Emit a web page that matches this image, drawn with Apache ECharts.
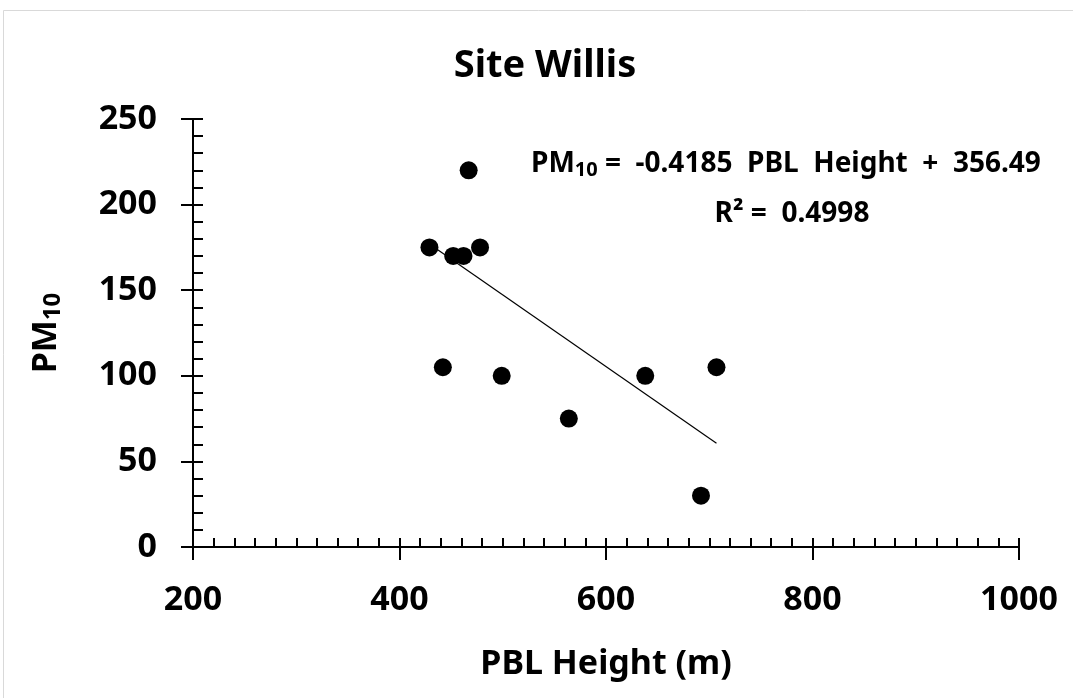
<!DOCTYPE html>
<html>
<head>
<meta charset="utf-8">
<script src="https://cdn.jsdelivr.net/npm/echarts@6/dist/echarts.min.js"></script>
<style>
  html, body { margin: 0; padding: 0; background: #fff; }
  #chart { width: 1073px; height: 698px; }
</style>
</head>
<body>
<div id="chart"></div>
<script>
// PBL height (m) and PM10
const pblHeight = [467, 429, 452, 462, 478, 442, 499, 564, 638, 707, 692];
const pm10 = [220, 175, 170, 170, 175, 105, 100, 75, 100, 105, 30];

// trendline from the fitted equation
const slope = -0.4185;
const intercept = 356.49;
const rSquared = 0.4998;

const xRange = [200, 1000];
const yRange = [0, 250];

const font = 'Noto Sans';

const points = pblHeight.map((x, i) => [x, pm10[i]]);
const xMin = Math.min(...pblHeight);
const xMax = Math.max(...pblHeight);
const trend = [[xMin, slope * xMin + intercept], [xMax, slope * xMax + intercept]];

const chart = echarts.init(document.getElementById('chart'), null, { renderer: 'canvas' });

const tickLine = { color: '#000', width: 2 };
const bold = (size) => ({ fontFamily: font, fontSize: size, fontWeight: 'bold', color: '#000' });

const option = {
  animation: false,
  backgroundColor: '#fff',
  textStyle: { fontFamily: font, color: '#000' },
  title: {
    text: 'Site Willis',
    left: 540,
    textAlign: 'center',
    top: 42,
    textStyle: bold(38)
  },
  graphic: [
    {
      type: 'rect',
      shape: { x: 3.5, y: 10.5, width: 1080, height: 700 },
      style: { fill: 'none', stroke: '#d9d9d9', lineWidth: 1 },
      z: -1
    },
    {
      type: 'text',
      x: 531,
      y: 164,
      style: {
        text: '{b|PM}{s|10}{b| =  -0.4185  PBL  Height  +  356.49}',
        verticalAlign: 'middle',
        rich: {
          b: { fontFamily: font, fontSize: 28, fontWeight: 'bold', fill: '#000' },
          s: { fontFamily: font, fontSize: 20, fontWeight: 'bold', fill: '#000', verticalAlign: 'bottom', padding: [12, 0, 0, 0] }
        }
      }
    },
    {
      type: 'text',
      x: 792,
      y: 214,
      style: {
        text: 'R² =  ' + rSquared.toFixed(4),
        align: 'center',
        verticalAlign: 'middle',
        fontFamily: font, fontSize: 28, fontWeight: 'bold', fill: '#000'
      }
    }
  ],
  grid: { left: 193, top: 119, width: 826, height: 428 },
  xAxis: [
    {
      type: 'value',
      min: xRange[0], max: xRange[1], interval: 200,
      name: 'PBL Height (m)',
      nameLocation: 'middle',
      nameGap: 100,
      nameTextStyle: bold(34),
      axisLine: { lineStyle: tickLine },
      axisTick: { inside: true, length: 9, lineStyle: tickLine },
      minorTick: { show: true, splitNumber: 10, length: 9, lineStyle: tickLine },
      axisLabel: Object.assign(bold(34), { margin: 36, formatter: (v) => String(v) }),
      splitLine: { show: false }
    },
    {
      type: 'value',
      position: 'bottom',
      min: xRange[0], max: xRange[1], interval: 200,
      axisLine: { show: false },
      axisTick: { inside: false, length: 13, lineStyle: tickLine },
      axisLabel: { show: false },
      splitLine: { show: false }
    }
  ],
  yAxis: [
    {
      type: 'value',
      min: yRange[0], max: yRange[1], interval: 50,
      name: '{b|PM}{s|10}',
      nameLocation: 'middle',
      nameGap: 128,
      nameRotate: 90,
      nameTextStyle: {
        rich: {
          b: bold(34),
          s: { fontFamily: font, fontSize: 24, fontWeight: 'bold', color: '#000', verticalAlign: 'bottom', padding: [14, 0, 0, 0] }
        }
      },
      axisLine: { lineStyle: tickLine },
      axisTick: { inside: true, length: 10, lineStyle: tickLine },
      minorTick: { show: true, splitNumber: 5, length: 10, lineStyle: tickLine },
      axisLabel: Object.assign(bold(34), { margin: 36 }),
      splitLine: { show: false }
    },
    {
      type: 'value',
      position: 'left',
      min: yRange[0], max: yRange[1], interval: 50,
      axisLine: { show: false },
      axisTick: { inside: false, length: 12, lineStyle: tickLine },
      axisLabel: { show: false },
      splitLine: { show: false }
    }
  ],
  series: [
    {
      type: 'line',
      data: trend,
      symbol: 'none',
      lineStyle: { color: '#000', width: 1.2 },
      z: 1
    },
    {
      type: 'scatter',
      data: points,
      symbol: 'circle',
      symbolSize: 18,
      itemStyle: { color: '#000', opacity: 1 },
      z: 2
    }
  ]
};

chart.setOption(option);
</script>
</body>
</html>
